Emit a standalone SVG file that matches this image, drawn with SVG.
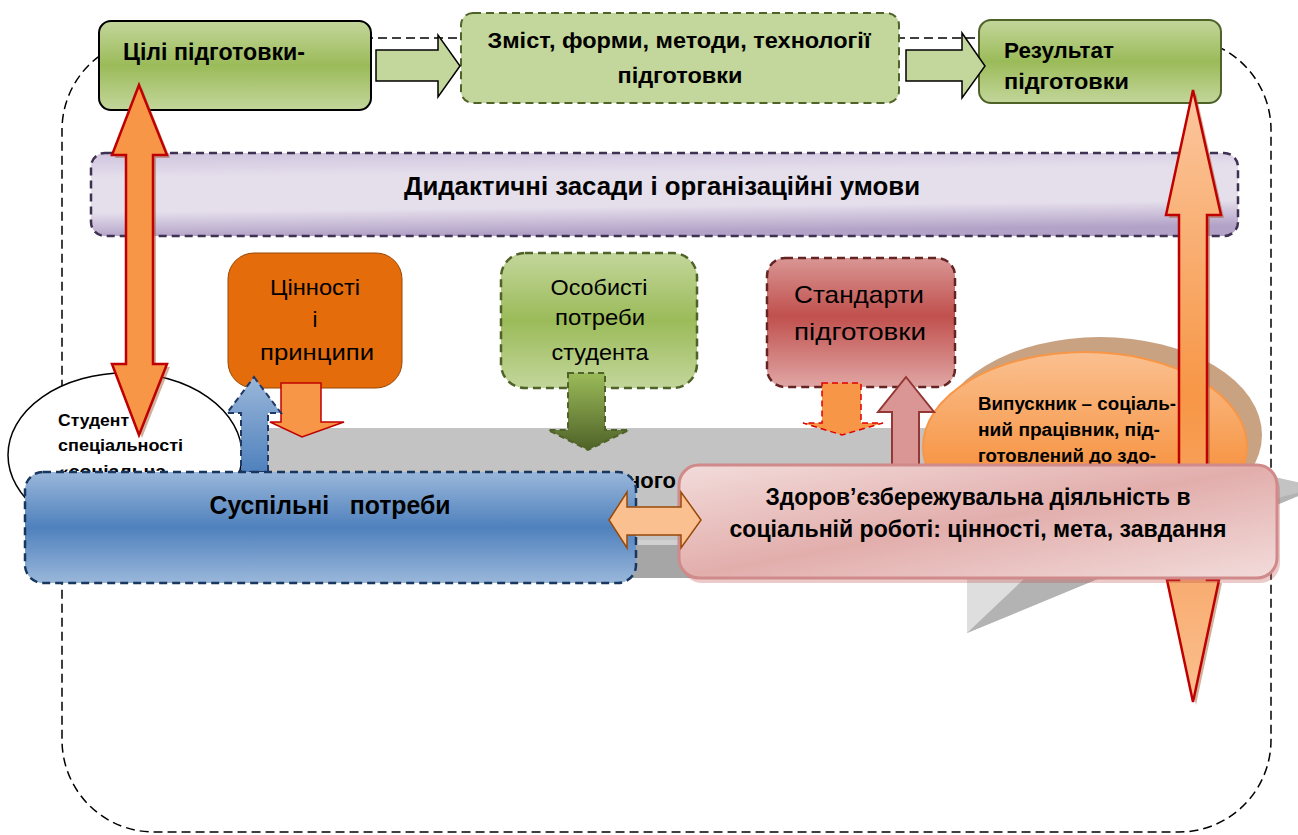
<svg xmlns="http://www.w3.org/2000/svg" width="1298" height="835" viewBox="0 0 1298 835">
<defs>
<style>
text{font-family:"Liberation Sans",Arial,sans-serif;fill:#000}
.b{font-weight:bold}
.dash{stroke-dasharray:8 5}
</style>
<linearGradient id="gGreen" x1="0" y1="0" x2="0" y2="1">
<stop offset="0" stop-color="#c3d69b"/><stop offset="0.5" stop-color="#9bbb59"/><stop offset="1" stop-color="#c3d69b"/>
</linearGradient>
<linearGradient id="gRed" x1="0" y1="0" x2="0" y2="1">
<stop offset="0" stop-color="#d99694"/><stop offset="0.45" stop-color="#c0504d"/><stop offset="1" stop-color="#e0a6a4"/>
</linearGradient>
<linearGradient id="gBlue" x1="0" y1="0" x2="0" y2="1">
<stop offset="0" stop-color="#9ab7da"/><stop offset="0.5" stop-color="#4f81bd"/><stop offset="1" stop-color="#9ab7da"/>
</linearGradient>
<linearGradient id="gBlueArr" x1="0" y1="0" x2="0" y2="1">
<stop offset="0" stop-color="#9ab7da"/><stop offset="1" stop-color="#4f81bd"/>
</linearGradient>
<linearGradient id="gPurple" x1="0" y1="0" x2="0.15" y2="1">
<stop offset="0" stop-color="#cfc4de"/><stop offset="0.3" stop-color="#e5dfec"/><stop offset="0.7" stop-color="#e5dfec"/><stop offset="1" stop-color="#b3a2c7"/>
</linearGradient>
<linearGradient id="gPink" x1="0" y1="0" x2="1" y2="1">
<stop offset="0" stop-color="#f2dcdb"/><stop offset="0.5" stop-color="#e2aeac"/><stop offset="1" stop-color="#f2dcdb"/>
</linearGradient>
<linearGradient id="gOlive" x1="0" y1="0" x2="0" y2="1">
<stop offset="0" stop-color="#9bbb59"/><stop offset="1" stop-color="#4f6228"/>
</linearGradient>
<linearGradient id="gEll" x1="0" y1="0" x2="0" y2="1">
<stop offset="0" stop-color="#fac090"/><stop offset="0.6" stop-color="#f79646"/><stop offset="1" stop-color="#f79646"/>
</linearGradient>
<linearGradient id="gRightArr" gradientUnits="userSpaceOnUse" x1="0" y1="90" x2="0" y2="702">
<stop offset="0" stop-color="#fbc79f"/><stop offset="0.5" stop-color="#f79646"/><stop offset="0.8" stop-color="#f8ac70"/><stop offset="1" stop-color="#fac090"/>
</linearGradient>
</defs>

<g id="frame">
<rect x="62" y="38" width="1209" height="794" rx="92" fill="none" stroke="#000" stroke-width="1.5" stroke-dasharray="9 5"/>
</g>

<g id="gray-arrow">
<polygon points="255,428 967,428 967,410 1320,487 967,633 967,578 255,578" fill="#c3c3c3"/>
<rect x="255" y="545" width="712" height="33" fill="#a6a6a6"/>
<rect x="255" y="540" width="712" height="5" fill="#d0d0d0"/>
<polygon points="967,633 1320,487 1040,560" fill="#b3b3b3"/>
<polygon points="967,578 1025,578 967,633" fill="#dedede"/>
<text class="b" x="627" y="488" font-size="22">ного</text>
</g>

<g id="didactic">
<rect x="91" y="153" width="1147" height="83" rx="14" fill="url(#gPurple)" stroke="#3f3151" stroke-width="2.5" class="dash"/>
<text class="b" x="662" y="195" font-size="25" text-anchor="middle" textLength="516" lengthAdjust="spacingAndGlyphs">Дидактичні засади і організаційні умови</text>
</g>

<g id="goals">
<rect x="99" y="21" width="272" height="89" rx="12" fill="url(#gGreen)" stroke="#000" stroke-width="2"/>
<text class="b" x="123" y="60" font-size="24" textLength="182" lengthAdjust="spacingAndGlyphs">Цілі підготовки-</text>
</g>

<g id="content">
<rect x="461" y="13" width="438" height="90" rx="12" fill="#c3d69b" stroke="#4f6228" stroke-width="2" class="dash"/>
<text class="b" x="679" y="48" font-size="22" text-anchor="middle" textLength="383" lengthAdjust="spacingAndGlyphs">Зміст, форми, методи, технології</text>
<text class="b" x="680" y="83" font-size="22" text-anchor="middle" textLength="125" lengthAdjust="spacingAndGlyphs">підготовки</text>
</g>

<g id="result">
<rect x="979" y="20" width="242" height="83" rx="12" fill="url(#gGreen)" stroke="#4f6228" stroke-width="2"/>
<text class="b" x="1004" y="58" font-size="22" textLength="110" lengthAdjust="spacingAndGlyphs">Результат</text>
<text class="b" x="1004" y="89" font-size="22" textLength="125" lengthAdjust="spacingAndGlyphs">підготовки</text>
</g>

<g id="values">
<rect x="228" y="253" width="174" height="135" rx="26" fill="#e46c0a" stroke="#984807" stroke-width="1"/>
<text x="315" y="295" font-size="22" text-anchor="middle" textLength="90" lengthAdjust="spacingAndGlyphs">Цінності</text>
<text x="315" y="327" font-size="22" text-anchor="middle">і</text>
<text x="317" y="360" font-size="22" text-anchor="middle" textLength="114" lengthAdjust="spacingAndGlyphs">принципи</text>
</g>

<g id="personal">
<rect x="501" y="253" width="196" height="135" rx="24" fill="url(#gGreen)" stroke="#4f6228" stroke-width="2.5" class="dash"/>
<text x="599" y="295" font-size="22" text-anchor="middle" textLength="97" lengthAdjust="spacingAndGlyphs">Особисті</text>
<text x="600" y="325" font-size="22" text-anchor="middle" textLength="90" lengthAdjust="spacingAndGlyphs">потреби</text>
<text x="600" y="360" font-size="22" text-anchor="middle" textLength="97" lengthAdjust="spacingAndGlyphs">студента</text>
</g>

<g id="standards">
<rect x="767" y="258" width="188" height="129" rx="18" fill="url(#gRed)" stroke="#632423" stroke-width="2.5" class="dash"/>
<text x="859" y="303" font-size="24" text-anchor="middle" textLength="130" lengthAdjust="spacingAndGlyphs">Стандарти</text>
<text x="860" y="340" font-size="24" text-anchor="middle" textLength="132" lengthAdjust="spacingAndGlyphs">підготовки</text>
</g>

<g id="student">
<ellipse cx="125" cy="455" rx="117" ry="82" fill="#fff" stroke="#000" stroke-width="1.5"/>
<text class="b" x="58" y="426" font-size="17" textLength="71" lengthAdjust="spacingAndGlyphs">Студент</text>
<text class="b" x="58" y="451" font-size="17" textLength="125" lengthAdjust="spacingAndGlyphs">спеціальності</text>
<text class="b" x="58" y="477" font-size="17" textLength="108" lengthAdjust="spacingAndGlyphs">«соціальна</text>
</g>

<g id="graduate">
<ellipse cx="1100" cy="435" rx="162" ry="98" fill="#c9a282"/>
<ellipse cx="1085" cy="447" rx="162" ry="95" fill="url(#gEll)" stroke="#f79646" stroke-width="2"/>
<text class="b" x="978" y="410" font-size="18" textLength="198" lengthAdjust="spacingAndGlyphs">Випускник – соціаль-</text>
<text class="b" x="978" y="436" font-size="18" textLength="182" lengthAdjust="spacingAndGlyphs">ний працівник, під-</text>
<text class="b" x="978" y="462" font-size="18" textLength="178" lengthAdjust="spacingAndGlyphs">готовлений до здо-</text>
</g>

<g id="connectors">
<polygon points="376,50 438,50 438,35 460,66 438,97 438,81 376,81" fill="#c3d69b" stroke="#000" stroke-width="1.5"/>
<polygon points="906,50 962,50 962,33 985,66 962,98 962,81 906,81" fill="#c3d69b" stroke="#000" stroke-width="1.5"/>
<polygon points="281,383 321,383 321,422 344,422 302,437 270,422 281,422" fill="#f79646" stroke="#c00000" stroke-width="1.5"/>
<polygon points="568,373 605,373 605,430 629,430 588,450 548,430 568,430" fill="url(#gOlive)" stroke="#4f6228" stroke-width="2" stroke-dasharray="6 4"/>
<polygon points="822,383 861,383 861,423 883,423 842,435 803,423 822,423" fill="#f79646" stroke="#e00000" stroke-width="1.5" stroke-dasharray="6 4"/>
<polygon points="254,377 281,413 268,413 268,472 241,472 241,413 227,413" fill="url(#gBlueArr)" stroke="#1f3864" stroke-width="2" stroke-dasharray="6 4"/>
<polygon points="906,377 934,412 919,412 919,468 892,468 892,412 878,412" fill="#d99694" stroke="#953735" stroke-width="2"/>
<polygon points="142,88 170,158 156,158 156,367 170,367 142,438 115,367 129,367 129,158 115,158" fill="#a0643a" opacity="0.5"/>
<polygon points="139,85 167,155 153,155 153,364 167,364 139,435 112,364 126,364 126,155 112,155" fill="#f79646" stroke="#c00000" stroke-width="2.5"/>
<polygon points="1196,93 1224,218 1210,218 1210,583 1222,583 1196,705 1170,583 1182,583 1182,218 1169,218" fill="#a0643a" opacity="0.5"/>
<polygon points="1193,90 1221,215 1207,215 1207,580 1219,580 1193,702 1167,580 1179,580 1179,215 1166,215" fill="url(#gRightArr)" stroke="#c00000" stroke-width="2.5"/>
</g>

<g id="social-needs">
<rect x="25" y="472" width="611" height="111" rx="18" fill="url(#gBlue)" stroke="#17375e" stroke-width="2.5" class="dash"/>
<text class="b" x="330" y="514" font-size="26" text-anchor="middle" textLength="241" lengthAdjust="spacingAndGlyphs" xml:space="preserve">Суспільні   потреби</text>
</g>

<g id="health-activity">
<rect x="682" y="470" width="598" height="113" rx="20" fill="#c0504d" opacity="0.3"/>
<rect x="679" y="465" width="598" height="113" rx="20" fill="url(#gPink)" stroke="#cf8a89" stroke-width="3"/>
<text class="b" x="978" y="505" font-size="23" text-anchor="middle" textLength="425" lengthAdjust="spacingAndGlyphs">Здоров’єзбережувальна діяльність в</text>
<text class="b" x="978" y="537" font-size="23" text-anchor="middle" textLength="497" lengthAdjust="spacingAndGlyphs">соціальній роботі: цінності, мета, завдання</text>
</g>

<g id="connector-h">
<polygon points="609,520 627,492 627,507 681,507 681,492 701,520 681,548 681,535 627,535 627,548" fill="#fac090" stroke="#984807" stroke-width="1.5"/>
</g>
</svg>
